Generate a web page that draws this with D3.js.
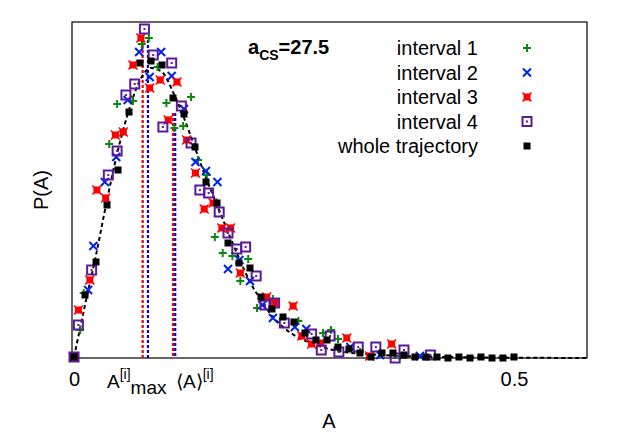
<!DOCTYPE html><html><head><script src="https://cdn.jsdelivr.net/npm/d3@7"></script>
<style>body{margin:0;background:#fff}svg{font-family:"Liberation Sans",Arial,sans-serif}</style></head><body><svg id="c" width="623" height="436"></svg>
<script>
const curveA=[0,0.0125,0.025,0.0375,0.05,0.0625,0.075,0.0875,0.1,0.1125,0.125,0.1375,0.15,0.1625,0.175,0.1875,0.2,0.2125,0.225,0.2375,0.25,0.275,0.3,0.35,0.425,0.583];
const curveP=[0.01,0.53,1.03,1.58,2.08,2.48,2.78,2.90,2.86,2.66,2.40,2.10,1.80,1.53,1.26,1.00,0.76,0.58,0.42,0.31,0.23,0.13,0.07,0.03,0.01,0];
const wholeA=d3.range(41).map(i=>i*0.0125);
const wholeP=[0.01,0.63,0.96,1.53,1.88,2.46,2.95,2.97,2.93,2.60,2.44,2.11,1.76,1.55,1.15,0.95,0.90,0.61,0.49,0.41,0.36,0.25,0.18,0.18,0.11,0.09,0.05,0.01,0.05,0.05,0.03,0.01,0.01,0.01,0,0.01,0,0.01,0,0,0.01];
const int1A=[0,0.007,0.011,0.040,0.049,0.067,0.077,0.085,0.095,0.105,0.114,0.124,0.133,0.141,0.151,0.160,0.169,0.180,0.189,0.198,0.208,0.226,0.255,0.283,0.292,0.300,0.325,0.370];
const int1P=[0.01,0.28,0.65,2.14,2.54,2.57,3.14,3.20,2.91,2.55,2.30,2.32,2.61,1.98,1.83,1.21,1.05,1.02,0.77,0.99,0.50,0.59,0.37,0.25,0.28,0.19,0.06,0.02];
const int2A=[0,0.016,0.022,0.035,0.048,0.061,0.074,0.086,0.099,0.111,0.125,0.138,0.150,0.163,0.175,0.188,0.200,0.214,0.226,0.251,0.264,0.314,0.348,0.393];
const int2P=[0.01,0.68,1.12,1.76,2.01,2.58,3.06,2.81,3.06,2.82,2.49,1.96,1.87,1.76,0.89,0.98,0.77,0.53,0.40,0.31,0.29,0.11,0.03,0.02];
const int3A=[0,0.005,0.018,0.026,0.036,0.047,0.056,0.067,0.076,0.086,0.098,0.107,0.117,0.128,0.138,0.148,0.158,0.168,0.178,0.189,0.219,0.228,0.249,0.259,0.270,0.280,0.310,0.336,0.361];
const int3P=[0.01,0.48,0.78,1.68,1.60,2.23,2.26,2.93,3.20,2.70,2.78,2.38,2.76,2.18,1.85,1.49,1.55,1.30,1.30,0.85,0.61,0.55,0.52,0.22,0.14,0.15,0.20,0.02,0.14];
const int4A=[0,0.005,0.020,0.039,0.049,0.059,0.069,0.080,0.090,0.101,0.111,0.122,0.133,0.143,0.153,0.165,0.175,0.185,0.195,0.207,0.217,0.228,0.239,0.270,0.281,0.291,0.301,0.323,0.343,0.365,0.375,0.405];
const int4P=[0.01,0.33,0.88,1.83,2.07,2.63,2.74,3.29,3.03,2.31,2.95,2.52,2.15,1.68,1.65,1.46,1.25,1.09,1.11,0.82,0.53,0.55,0.35,0.24,0.08,0.22,0.06,0.11,0.11,0.00,0.08,0.03];
const maxA=[0.078,0.084], meanA=[0.1125,0.115];
const legendLabels=["interval 1","interval 2","interval 3","interval 4","whole trajectory"];
const xTicks=[0,0.5];

const svg=d3.select("#c");
const L=72,R=587,T=22,B=358;
const x=d3.scaleLinear().domain([-0.0023,0.583]).range([L,R]);
const y=d3.scaleLinear().domain([0,3.36]).range([B,T]);
const g=svg.append("g");
g.append("rect").attr("x",L).attr("y",T).attr("width",R-L).attr("height",B-T).attr("fill","none").attr("stroke","#000").attr("stroke-width",1.2);
svg.append("g").attr("transform",`translate(0,${B})`).call(d3.axisBottom(x).tickValues(xTicks).tickFormat(d=>d===0?"0":"0.5").tickSize(0).tickPadding(14))
 .call(a=>{a.select(".domain").remove();a.selectAll("text").attr("font-size",20).attr("font-family","Liberation Sans");});
const vl=[[maxA[0],"#e00",3.18],[maxA[1],"#00e",3.18],[meanA[0],"#e00",2.45],[meanA[1],"#00e",2.45]];
vl.forEach(([a,c,t])=>g.append("line").attr("x1",x(a)).attr("x2",x(a)).attr("y1",y(t)).attr("y2",y(0)).attr("stroke",c).attr("stroke-width",2.2).attr("stroke-dasharray","3,2"));
g.append("path").datum(curveA.map((a,i)=>[a,curveP[i]])).attr("d",d3.line().x(d=>x(d[0])).y(d=>y(d[1])).curve(d3.curveMonotoneX))
 .attr("fill","none").attr("stroke","#000").attr("stroke-width",2).attr("stroke-dasharray","4,3");
function mark(sel,t){
 if(t===0){sel.append("path").attr("d","M-4,0H4M0,-4V4").attr("stroke","#0a8a0a").attr("stroke-width",2);}
 if(t===1){sel.append("path").attr("d","M-4,-4L4,4M-4,4L4,-4").attr("stroke","#0022ee").attr("stroke-width",2);}
 if(t===2){sel.append("rect").attr("x",-3.5).attr("y",-3.5).attr("width",7).attr("height",7).attr("fill","#f00");sel.append("path").attr("d","M-4.5,-4.5L4.5,4.5M-4.5,4.5L4.5,-4.5").attr("stroke","#f00").attr("stroke-width",1.5);}
 if(t===3){sel.append("rect").attr("x",-4.5).attr("y",-4.5).attr("width",9).attr("height",9).attr("fill","none").attr("stroke","#5a1a9a").attr("stroke-width",2);sel.append("rect").attr("x",-1).attr("y",-1).attr("width",2).attr("height",2).attr("fill","#5a1a9a");}
 if(t===4){sel.append("rect").attr("x",-3.5).attr("y",-3.5).attr("width",7).attr("height",7).attr("fill","#000");}
}
const series=[[int1A,int1P],[int2A,int2P],[int3A,int3P],[int4A,int4P],[wholeA,wholeP]];
series.forEach(([A,P],t)=>{
 g.selectAll(null).data(A.map((a,i)=>[a,P[i]])).enter().append("g").attr("transform",d=>`translate(${x(d[0])},${y(d[1])})`).each(function(){mark(d3.select(this),t);});
});
legendLabels.forEach((l,i)=>{
 const yy=48+i*24.5;
 svg.append("text").attr("x",478).attr("y",yy+7).attr("text-anchor","end").attr("font-size",20).text(l);
 mark(svg.append("g").attr("transform",`translate(527,${yy})`),i);
});
const ac=svg.append("text").attr("x",248).attr("y",54).attr("font-size",20).attr("font-weight","bold");
ac.append("tspan").text("a");ac.append("tspan").attr("font-size",14).attr("dy",6).text("CS");ac.append("tspan").attr("dy",-6).text("=27.5");
const m=svg.append("text").attr("x",107).attr("y",388).attr("font-size",19);
m.append("tspan").text("A");m.append("tspan").attr("font-size",14).attr("dy",-9).text("[i]");m.append("tspan").attr("dy",15).text("max");
const mm=svg.append("text").attr("x",176).attr("y",388).attr("font-size",19);
mm.append("tspan").text("\u27E8A\u27E9");mm.append("tspan").attr("font-size",14).attr("dy",-9).text("[i]");
svg.append("text").attr("x",329).attr("y",428).attr("text-anchor","middle").attr("font-size",20).text("A");
svg.append("text").attr("transform","translate(48,190) rotate(-90)").attr("text-anchor","middle").attr("font-size",20).text("P(A)");
</script></body></html>
